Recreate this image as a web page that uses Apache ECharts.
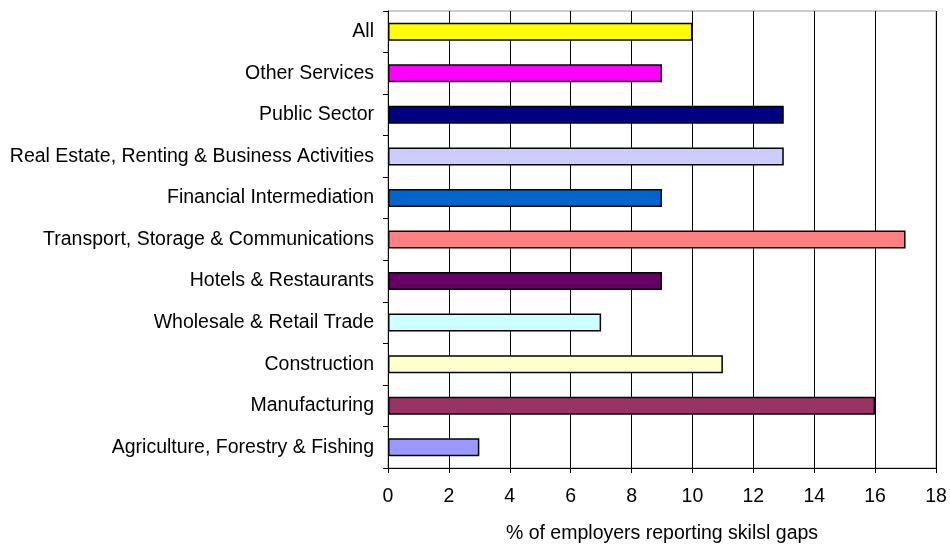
<!DOCTYPE html>
<html>
<head>
<meta charset="utf-8">
<script src="https://cdn.jsdelivr.net/npm/echarts@6/dist/echarts.min.js"></script>
<style>
  html, body { margin: 0; padding: 0; background: #fff; }
  #chart { width: 950px; height: 544px; }
</style>
</head>
<body>
<div id="chart"></div>
<script>
// Sectors listed bottom-to-top as they appear on the category axis
const sectors = [
  'Agriculture, Forestry & Fishing',
  'Manufacturing',
  'Construction',
  'Wholesale & Retail Trade',
  'Hotels & Restaurants',
  'Transport, Storage & Communications',
  'Financial Intermediation',
  'Real Estate, Renting & Business Activities',
  'Public Sector',
  'Other Services',
  'All'
];
const skillGapPct = [3, 16, 11, 7, 9, 17, 9, 13, 13, 9, 10];
const barColors = [
  '#9999FF', '#993366', '#FFFFCC', '#CCFFFF', '#660066',
  '#FF8080', '#0066CC', '#CCCCFF', '#000080', '#FF00FF', '#FFFF00'
];
const xTicks = [0, 2, 4, 6, 8, 10, 12, 14, 16, 18];
const xTitle = '% of employers reporting skilsl gaps';

const font = 'Liberation Sans, Arial, sans-serif';
const fontSize = 19.5;
const chart = echarts.init(document.getElementById('chart'), null, { renderer: 'canvas' });

chart.setOption({
  animation: false,
  backgroundColor: '#ffffff',
  grid: {
    left: 388, right: 14, top: 11, bottom: 76,
    outerBoundsMode: 'none',
    containLabel: false,
    show: true, borderColor: '#999999', borderWidth: 1, backgroundColor: 'transparent'
  },
  xAxis: {
    type: 'value',
    min: xTicks[0],
    max: xTicks[xTicks.length - 1],
    interval: 2,
    axisLine: { show: true, lineStyle: { color: '#000', width: 1 } },
    axisTick: { show: true, length: 5, lineStyle: { color: '#000' } },
    splitLine: { show: true, lineStyle: { color: '#000', width: 1 } },
    axisLabel: { color: '#000', fontFamily: font, fontSize: fontSize, margin: 19 },
    name: xTitle,
    nameLocation: 'middle',
    nameGap: 56,
    nameTextStyle: { color: '#000', fontFamily: font, fontSize: fontSize }
  },
  yAxis: {
    type: 'category',
    data: sectors,
    axisLine: { show: true, lineStyle: { color: '#000', width: 1 } },
    axisTick: { show: true, length: 5, alignWithLabel: false, lineStyle: { color: '#000' } },
    splitLine: { show: false },
    axisLabel: { color: '#000', fontFamily: font, fontSize: fontSize, margin: 14 }
  },
  series: [{
    type: 'bar',
    data: skillGapPct.map((v, i) => ({
      value: v,
      itemStyle: { color: barColors[i] }
    })),
    barWidth: 18,
    itemStyle: { borderColor: '#000', borderWidth: 1.5 },
    z: 3
  }]
});
</script>
</body>
</html>
